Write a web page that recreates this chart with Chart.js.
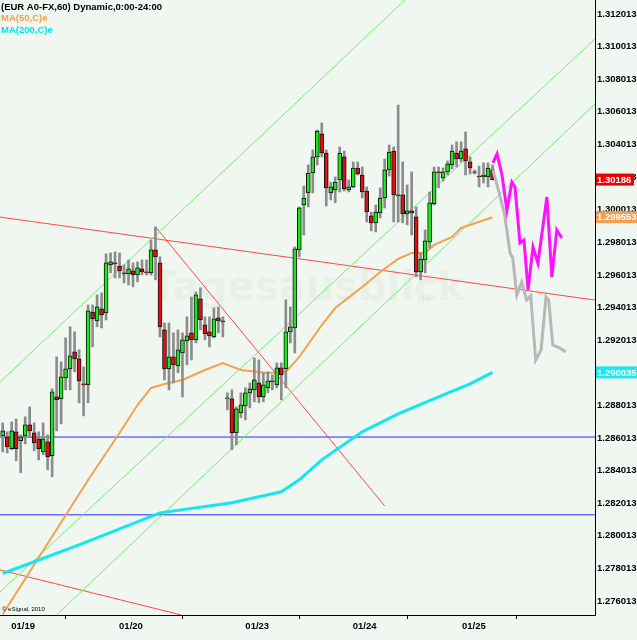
<!DOCTYPE html>
<html>
<head>
<meta charset="utf-8">
<script src="https://cdn.jsdelivr.net/npm/chart.js@4.4.0/dist/chart.umd.min.js"></script>
<style>
  html, body { margin: 0; padding: 0; background: #f0f7f0; }
  canvas { display: block; }
</style>
</head>
<body>
<canvas id="chart" width="637" height="640"></canvas>
<script>
// hourly candles, index 0..109
const opens = [
  1.28614,1.28608,1.28535,1.28639,1.28584,1.28614,1.28682,1.28633,1.28596,1.28516,
  1.28578,1.28492,1.28853,1.28841,1.28970,1.29025,1.29129,1.29086,1.28933,1.28927,
  1.29374,1.29319,1.29393,1.29368,1.29663,1.29675,1.29656,1.29614,1.29607,1.29626,
  1.29601,1.29638,1.29620,1.29614,1.29755,1.29675,1.29264,1.29025,1.29099,1.29043,
  1.29123,1.29197,1.29246,1.29203,1.29454,1.29295,1.29252,1.29221,1.29338,1.29319,
  1.28841,1.28841,1.28633,1.28755,1.28798,1.28878,1.28896,1.28939,1.28853,1.28909,
  1.28951,1.28927,1.29031,1.29025,1.29252,1.29276,1.29755,1.30030,1.30104,1.30226,
  1.30325,1.30466,1.30349,1.30104,1.30122,1.30184,1.30325,1.30122,1.30141,1.30257,
  1.30214,1.30116,1.29963,1.29920,1.29981,1.30073,1.30245,1.30361,1.30092,1.30092,
  1.29975,1.29994,1.29957,1.29620,1.29693,1.29804,1.30036,1.30233,1.30196,1.30233,
  1.30276,1.30349,1.30312,1.30374,1.30294,1.30233,1.30208,1.30202,1.30202,1.30245
];
const highs = [
  1.28694,1.28639,1.28700,1.28718,1.28620,1.28731,1.28792,1.28694,1.28639,1.28694,
  1.28620,1.28902,1.29099,1.29068,1.29215,1.29283,1.29252,1.29142,1.29037,1.29417,
  1.29417,1.29479,1.29491,1.29730,1.29736,1.29742,1.29736,1.29663,1.29693,1.29675,
  1.29681,1.29693,1.29693,1.29816,1.29896,1.29712,1.29307,1.29307,1.29246,1.29264,
  1.29246,1.29344,1.29466,1.29497,1.29522,1.29344,1.29344,1.29399,1.29405,1.29344,
  1.28878,1.28896,1.28792,1.28878,1.28909,1.28939,1.29092,1.29080,1.29001,1.29007,
  1.28988,1.29062,1.29062,1.29448,1.29405,1.29773,1.30018,1.30147,1.30276,1.30368,
  1.30490,1.30533,1.30368,1.30171,1.30202,1.30386,1.30361,1.30184,1.30294,1.30294,
  1.30263,1.30141,1.29987,1.30030,1.30135,1.30312,1.30398,1.30386,1.30643,1.30294,
  1.30153,1.30233,1.30018,1.29736,1.29877,1.30110,1.30263,1.30263,1.30257,1.30300,
  1.30398,1.30417,1.30417,1.30478,1.30325,1.30245,1.30269,1.30288,1.30288,1.30276
];
const lows = [
  1.28516,1.28510,1.28529,1.28461,1.28388,1.28565,1.28608,1.28522,1.28467,1.28498,
  1.28406,1.28363,1.28645,1.28688,1.28896,1.28896,1.29007,1.28817,1.28737,1.28817,
  1.29160,1.29283,1.29276,1.29325,1.29614,1.29583,1.29583,1.29552,1.29540,1.29528,
  1.29558,1.29601,1.29601,1.29601,1.29571,1.29221,1.28958,1.28896,1.28939,1.29001,
  1.28853,1.29050,1.29080,1.29184,1.29264,1.29203,1.29160,1.29215,1.29246,1.29221,
  1.28774,1.28529,1.28559,1.28725,1.28712,1.28786,1.28823,1.28817,1.28823,1.28878,
  1.28896,1.28909,1.28835,1.28909,1.29184,1.29123,1.29712,1.29846,1.30018,1.30104,
  1.30276,1.30325,1.30024,1.30061,1.30043,1.30110,1.30116,1.30110,1.30135,1.30214,
  1.30073,1.29926,1.29871,1.29865,1.29951,1.30012,1.30208,1.29926,1.29926,1.29920,
  1.29908,1.29846,1.29589,1.29571,1.29614,1.29767,1.30030,1.30135,1.30177,1.30214,
  1.30251,1.30263,1.30294,1.30214,1.30220,1.30220,1.30141,1.30165,1.30141,1.30184
];
const closes = [
  1.28645,1.28547,1.28645,1.28535,1.28608,1.28682,1.28645,1.28571,1.28535,1.28596,
  1.28486,1.28884,1.28835,1.28976,1.29025,1.29105,1.29086,1.28951,1.28927,1.29381,
  1.29332,1.29405,1.29356,1.29675,1.29681,1.29669,1.29626,1.29607,1.29638,1.29601,
  1.29644,1.29620,1.29614,1.29755,1.29712,1.29283,1.29025,1.29099,1.29050,1.29142,
  1.29203,1.29227,1.29203,1.29479,1.29325,1.29240,1.29227,1.29332,1.29319,1.29313,
  1.28847,1.28633,1.28780,1.28804,1.28878,1.28902,1.28958,1.28853,1.28927,1.28951,
  1.28945,1.29031,1.28988,1.29252,1.29283,1.29761,1.30012,1.30073,1.30226,1.30325,
  1.30484,1.30349,1.30135,1.30141,1.30171,1.30349,1.30128,1.30141,1.30257,1.30220,
  1.30110,1.29987,1.29920,1.29987,1.30073,1.30245,1.30355,1.30092,1.30085,1.29975,
  1.29994,1.29981,1.29620,1.29699,1.29810,1.30043,1.30233,1.30226,1.30233,1.30282,
  1.30361,1.30312,1.30361,1.30300,1.30257,1.30230,1.30204,1.30214,1.30257,1.30186
];

// moving averages (read at sample bars)
const ma50X = [0, 19, 26, 30, 33, 36, 40, 45, 49, 53, 59, 63, 66, 71, 74, 80, 84, 88, 91, 94, 96, 100, 102, 109];
const ma50Y = [1.27520, 1.28343, 1.28632, 1.28803, 1.28908, 1.28932, 1.28957, 1.29018, 1.29061, 1.29018,
  1.29000, 1.29006, 1.29098, 1.29294, 1.29398, 1.29527, 1.29619, 1.29699, 1.29736, 1.29736,
  1.29785, 1.29834, 1.29889, 1.299553];
const ma200X = [0, 17, 35, 51, 62, 66, 71, 80, 88, 97, 104, 109];
const ma200Y = [1.27770, 1.27946, 1.28142, 1.28204, 1.28271, 1.28345, 1.28467, 1.28639, 1.28749, 1.28853, 1.28933, 1.290035];

// forecast paths
const pinkX = [109.1, 110.0, 111.1, 112.2, 113.3, 114.0, 115.1, 116.0, 116.9, 118.0, 119.1, 121.1, 122.2, 123.3, 124.4];
const pinkY = [1.30288, 1.30343, 1.30214, 1.29999, 1.30171, 1.30140, 1.29797, 1.29815, 1.29509, 1.29772, 1.29674, 1.30079, 1.29588, 1.29877, 1.29828];
const greyX = [109.1, 110.6, 111.7, 112.9, 113.5, 114.4, 115.5, 116.6, 117.5, 118.6, 119.8, 120.9, 121.5, 122.4, 124.0, 125.3];
const greyY = [1.30245, 1.30091, 1.29969, 1.29736, 1.29705, 1.29478, 1.29558, 1.29447, 1.29472, 1.29079, 1.29141, 1.29466, 1.29447, 1.29171, 1.29153, 1.29128];

// trend lines: [start, end]
const chanAX = [-0.6, 89.5],  chanAY = [1.28944, 1.31287];
const chanBX = [-0.6, 131.8], chanBY = [1.27657, 1.31048];
const chanCX = [8, 131.8],    chanCY = [1.27411, 1.30649];
const redLongX = [-0.6, 131.8], redLongY = [1.29956, 1.29447];
const redDiagX = [34, 85.0],   redDiagY = [1.29896, 1.28184];
const redLowX = [-0.6, 39.7],  redLowY = [1.27792, 1.27516];
const blueLevels = [1.28607, 1.28130];

const dayLabels = ['01/19', '01/20', '01/23', '01/24', '01/25'];
const dayPos = [1.9, 25.9, 54.0, 77.9, 102.2];
const yTicks = [1.276013, 1.278013, 1.280013, 1.282013, 1.284013, 1.286013, 1.288013, 1.290013, 1.292013,
  1.294013, 1.296013, 1.298013, 1.300013, 1.302013, 1.304013, 1.306013, 1.308013, 1.310013, 1.312013];

const FONT = "'Liberation Sans', Arial, sans-serif";
const UP = '#1ee61e', DOWN = '#e01010';

function lineSet(xs, ys, color, width, order) {
    return {
        type: 'line',
        data: xs.map((x, i) => ({ x: x, y: ys[i] })),
        borderColor: color,
        borderWidth: width,
        pointRadius: 0,
        fill: false,
        tension: 0,
        order: order
    };
}

const pageDeco = {
    id: 'pageDeco',
    beforeDraw(chart) {
        const c = chart.ctx;
        c.save();
        c.fillStyle = '#f0f7f0';
        c.fillRect(0, 0, chart.width, chart.height);
        c.restore();
    },
    beforeDatasetsDraw(chart) {
        const c = chart.ctx;
        c.save();
        c.fillStyle = 'rgba(150,175,150,0.09)';
        c.font = "bold 40px 'DejaVu Sans', sans-serif";
        c.textBaseline = 'alphabetic';
        c.fillText('Tagesausblick', 150, 300);
        c.font = "bold 11px 'DejaVu Sans', sans-serif";
        c.fillText('de', 417, 303);
        c.restore();
    },
    afterDraw(chart) {
        const c = chart.ctx;
        const y = chart.scales.y;
        const right = chart.chartArea.right;
        c.save();
        // header
        c.font = 'bold 9.5px ' + FONT;
        c.textBaseline = 'alphabetic';
        c.fillStyle = '#000';
        c.fillText('(EUR A0-FX,60) Dynamic,0:00-24:00', 1, 10);
        c.fillStyle = '#f0a050';
        c.fillText('MA(50,C)e', 1, 21);
        c.fillStyle = '#00e4ee';
        c.fillText('MA(200,C)e', 1, 33);
        c.fillStyle = '#000';
        c.font = '6px ' + FONT;
        c.fillText('\u00a9 eSignal, 2010', 2, 611);
        // last value boxes
        const boxes = [
            { v: closes[closes.length - 1], t: closes[closes.length - 1].toFixed(5), bg: '#ee0000', w: 38 },
            { v: ma50Y[ma50Y.length - 1], t: ma50Y[ma50Y.length - 1].toFixed(6), bg: '#f0a050', w: 41 },
            { v: ma200Y[ma200Y.length - 1], t: ma200Y[ma200Y.length - 1].toFixed(6), bg: '#1ee8ee', w: 41 }
        ];
        c.font = 'bold 9.5px ' + FONT;
        c.textBaseline = 'middle';
        boxes.forEach(b => {
            const py = y.getPixelForValue(b.v);
            c.fillStyle = b.bg;
            c.fillRect(right + 1, py - 6, b.w, 12);
            c.fillStyle = '#fff';
            c.fillText(b.t, right + 2, py + 0.5);
        });
        c.restore();
    }
};

const datasets = [
    lineSet(chanAX, chanAY, '#74ec74', 1, 9),
    lineSet(chanBX, chanBY, '#74ec74', 1, 9),
    lineSet(chanCX, chanCY, '#74ec74', 1, 9),
    lineSet(redLongX, redLongY, '#ff4848', 1, 9),
    lineSet(redDiagX, redDiagY, '#ff4848', 1, 9),
    lineSet(redLowX, redLowY, '#ff4848', 1, 9),
    lineSet([-0.6, 131.8], [blueLevels[0], blueLevels[0]], '#2a2aff', 1, 9),
    lineSet([-0.6, 131.8], [blueLevels[1], blueLevels[1]], '#2a2aff', 1, 9),
    lineSet(ma200X, ma200Y, '#14e6ee', 3, 8),
    lineSet(ma50X, ma50Y, '#f4a24e', 2, 8),
    {
        type: 'bar',
        data: lows.map((l, i) => ({ x: i, y: [l, highs[i]] })),
        backgroundColor: '#8c8c8c',
        borderWidth: 0,
        barThickness: 2,
        grouped: false,
        order: 3
    },
    {
        type: 'bar',
        data: opens.map((o, i) => ({ x: i, y: [o, closes[i]] })),
        backgroundColor: opens.map((o, i) => closes[i] >= o ? UP : DOWN),
        borderColor: '#111',
        borderWidth: 1,
        borderSkipped: false,
        barThickness: 4,
        grouped: false,
        order: 2
    },
    lineSet(greyX, greyY, '#b8b8b8', 3, 1),
    lineSet(pinkX, pinkY, '#ff10ff', 3, 0)
];

new Chart(document.getElementById('chart').getContext('2d'), {
    type: 'bar',
    data: { datasets: datasets },
    plugins: [pageDeco],
    options: {
        responsive: false,
        animation: false,
        layout: { padding: 0 },
        plugins: { legend: { display: false }, tooltip: { enabled: false } },
        scales: {
            x: {
                type: 'linear',
                min: -0.6,
                max: 131.8,
                offset: false,
                afterBuildTicks: s => { s.ticks = dayPos.map(v => ({ value: v })); },
                afterFit: s => { s.height = 25; s.paddingLeft = 0; s.paddingRight = 0; },
                ticks: {
                    align: 'start',
                    maxRotation: 0,
                    autoSkip: false,
                    padding: 2,
                    color: '#000',
                    font: { family: FONT, size: 9.5, weight: 'bold' },
                    callback: (v, i) => dayLabels[i]
                },
                grid: { display: true, drawOnChartArea: false, drawTicks: true, tickLength: 4, color: '#000' },
                border: { display: true, color: '#000' }
            },
            y: {
                type: 'linear',
                position: 'right',
                min: 1.275156,
                max: 1.312872,
                afterBuildTicks: s => { s.ticks = yTicks.map(v => ({ value: v })); },
                afterFit: s => { s.width = 42; s.paddingTop = 0; s.paddingBottom = 0; },
                ticks: {
                    autoSkip: false,
                    padding: 2,
                    color: '#000',
                    font: { family: FONT, size: 9.5, weight: 'bold' },
                    callback: v => v.toFixed(6)
                },
                grid: { display: false, drawTicks: false },
                border: { display: true, color: '#000' }
            }
        }
    }
});
</script>
</body>
</html>
